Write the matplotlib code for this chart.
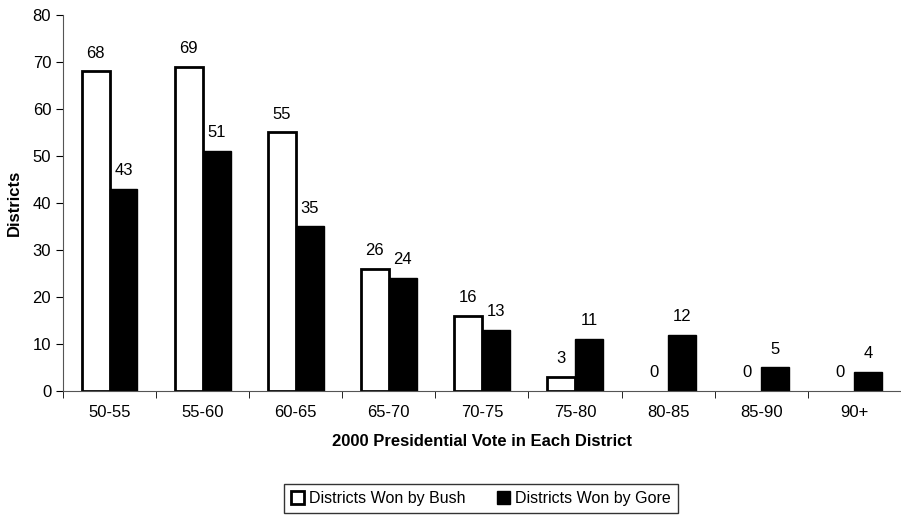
import numpy as np
import matplotlib.pyplot as plt

plt.rcParams['font.family'] = ['Liberation Sans', 'DejaVu Sans']

categories = ['50-55', '55-60', '60-65', '65-70', '70-75', '75-80', '80-85', '85-90', '90+']
bush = [68, 69, 55, 26, 16, 3, 0, 0, 0]
gore = [43, 51, 35, 24, 13, 11, 12, 5, 4]

fs = 12

fig = plt.figure(figsize=(9.01, 5.15), dpi=100)
ax = fig.add_axes([0.0699, 0.2408, 0.93, 0.7301])

x = np.arange(len(categories))
w = 0.3
# empty bars get no outline
bush_lw = [2 if v > 0 else 0 for v in bush]
b1 = ax.bar(x - w / 2, bush, w, color='white', edgecolor='black', linewidth=bush_lw,
            label='Districts Won by Bush')
b2 = ax.bar(x + w / 2, gore, w, color='black', edgecolor='black', linewidth=1,
            label='Districts Won by Gore')

for xi, v in zip(x, bush):
    ax.text(xi - w / 2, v + 2.3, str(v), ha='center', va='bottom', fontsize=fs)
for xi, v in zip(x, gore):
    ax.text(xi + w / 2, v + 2.3, str(v), ha='center', va='bottom', fontsize=fs)

ax.set_xlim(-0.5, len(categories) - 0.5)
ax.set_ylim(0, 80)
ax.set_yticks(range(0, 81, 10))
ax.set_xticks(x)
ax.set_xticklabels(categories, fontsize=fs)
ax.set_xticks(np.arange(-0.5, len(categories)), minor=True)
ax.tick_params(axis='x', which='major', length=0, pad=10)
ax.tick_params(axis='x', which='minor', length=5, direction='out')
ax.tick_params(axis='y', labelsize=fs, length=5, direction='out')

for s in ['top', 'right']:
    ax.spines[s].set_visible(False)
ax.spines['left'].set_color('#555555')
ax.spines['bottom'].set_color('#555555')

ax.set_xlabel('2000 Presidential Vote in Each District', fontsize=fs,
              fontweight='bold', labelpad=10)
ax.set_ylabel('Districts', fontsize=fs, fontweight='bold', labelpad=8)

leg = fig.legend(handles=[b1, b2], loc='lower center', bbox_to_anchor=(0.534, -0.012),
                 ncol=2, frameon=True, fancybox=False, edgecolor='black',
                 fontsize=11.5, handlelength=0.8, handleheight=0.8,
                 handletextpad=0.3, columnspacing=2.0, borderpad=0.45)
leg.get_frame().set_linewidth(1)

fig.savefig('out.png', dpi=100)
